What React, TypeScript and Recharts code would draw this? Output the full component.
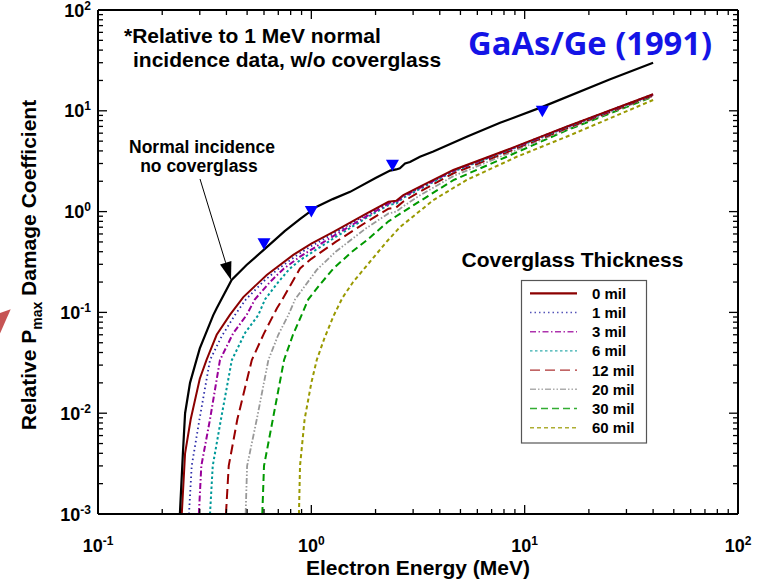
import React from 'react';
import { ComposedChart, Line, Scatter, XAxis, YAxis, Customized } from 'recharts';

const FONT = '"Liberation Sans", Arial, Helvetica, sans-serif';

// ---- axis ticks ----
const xTicks = [0.1, 0.2, 0.3, 0.4, 0.5, 0.6, 0.7, 0.8, 0.9, 1, 2, 3, 4, 5, 6, 7, 8, 9, 10, 20, 30, 40, 50, 60, 70, 80, 90, 100];
const yTicks = [
  0.001, 0.002, 0.003, 0.004, 0.005, 0.006, 0.007, 0.008, 0.009,
  0.01, 0.02, 0.03, 0.04, 0.05, 0.06, 0.07, 0.08, 0.09,
  0.1, 0.2, 0.3, 0.4, 0.5, 0.6, 0.7, 0.8, 0.9,
  1, 2, 3, 4, 5, 6, 7, 8, 9,
  10, 20, 30, 40, 50, 60, 70, 80, 90, 100,
];

// ---- data: [electron energy (MeV), relative Pmax damage coefficient] ----
const normalNoCover: [number, number][] = [
  [0.242, 0.001], [0.25, 0.004], [0.256, 0.01], [0.27, 0.02], [0.285, 0.03], [0.3, 0.044],
  [0.347, 0.094], [0.36, 0.11], [0.423, 0.21], [0.497, 0.295], [0.6, 0.42], [0.75, 0.64],
  [0.884, 0.84], [1.06, 1.12], [1.26, 1.33], [1.52, 1.57], [2.0, 2.15], [2.34, 2.55],
  [2.5, 2.62], [2.6, 2.69], [2.75, 3.0], [2.9, 3.1], [3.23, 3.5], [3.73, 3.95],
  [5.35, 5.53], [7.67, 7.6], [12.2, 11.0], [25, 20.4], [40, 30],
];

const normalMarkers: [number, number][] = [[0.6, 0.48], [1.0, 1.0], [2.4, 2.88], [12.1, 9.9]];

const mil0: [number, number][] = [
  [0.247, 0.001], [0.256, 0.004], [0.272, 0.0087], [0.3, 0.022], [0.323, 0.034], [0.36, 0.06],
  [0.416, 0.095], [0.48, 0.142], [0.618, 0.235], [0.823, 0.372], [1.0, 0.48], [1.27, 0.63],
  [1.82, 0.96], [2.3, 1.25], [2.5, 1.28], [2.7, 1.46], [3.23, 1.77], [4.63, 2.59],
  [8.24, 4.08], [15.7, 6.97], [40, 14.6],
];
const mil1: [number, number][] = [
  [0.267, 0.001], [0.275, 0.003], [0.299, 0.0087], [0.335, 0.0337], [0.38, 0.058], [0.438, 0.094],
  [0.494, 0.135], [0.6, 0.205], [0.7, 0.27], [0.85, 0.365], [1.0, 0.455], [1.3, 0.62],
  [1.8, 0.93], [2.3, 1.23], [2.5, 1.26], [2.7, 1.44], [3.23, 1.75], [4.63, 2.57],
  [8.24, 4.06], [15.7, 6.95], [40, 14.6],
];
const mil3: [number, number][] = [
  [0.297, 0.001], [0.305, 0.003], [0.335, 0.0087], [0.373, 0.0337], [0.43, 0.062], [0.497, 0.094],
  [0.544, 0.135], [0.64, 0.2], [0.74, 0.27], [0.885, 0.357], [1.0, 0.42], [1.3, 0.59],
  [1.8, 0.89], [2.3, 1.2], [2.5, 1.24], [2.7, 1.41], [3.23, 1.72], [4.63, 2.54],
  [8.24, 4.03], [15.7, 6.9], [40, 14.5],
];
const mil6: [number, number][] = [
  [0.335, 0.001], [0.345, 0.003], [0.377, 0.0087], [0.424, 0.0337], [0.49, 0.063], [0.564, 0.094],
  [0.607, 0.135], [0.7, 0.2], [0.79, 0.27], [0.885, 0.33], [1.0, 0.39], [1.3, 0.56],
  [1.8, 0.86], [2.3, 1.16], [2.5, 1.2], [2.7, 1.37], [3.23, 1.68], [4.63, 2.5],
  [8.24, 3.98], [15.7, 6.85], [40, 14.4],
];
const mil12: [number, number][] = [
  [0.398, 0.001], [0.41, 0.003], [0.45, 0.0087], [0.526, 0.0337], [0.6, 0.062], [0.69, 0.11],
  [0.725, 0.13], [0.885, 0.273], [1.0, 0.34], [1.3, 0.5], [1.8, 0.78], [2.3, 1.07],
  [2.5, 1.1], [2.7, 1.26], [3.23, 1.58], [4.63, 2.4], [8.24, 3.88], [15.7, 6.7], [40, 14.2],
];
const mil20: [number, number][] = [
  [0.492, 0.001], [0.5, 0.003], [0.555, 0.0087], [0.629, 0.0337], [0.7, 0.06], [0.78, 0.094],
  [0.84, 0.135], [1.06, 0.264], [1.3, 0.4], [1.8, 0.68], [2.3, 0.96], [2.5, 1.0],
  [2.7, 1.13], [3.23, 1.45], [4.63, 2.25], [8.24, 3.72], [15.7, 6.55], [40, 14.0],
];
const mil30: [number, number][] = [
  [0.589, 0.001], [0.6, 0.003], [0.66, 0.0087], [0.745, 0.0337], [0.82, 0.06], [0.9, 0.094],
  [0.968, 0.135], [1.1, 0.19], [1.27, 0.273], [1.55, 0.4], [1.82, 0.52], [2.3, 0.8],
  [2.6, 0.95], [3.23, 1.27], [4.63, 2.05], [8.24, 3.5], [15.7, 6.4], [40, 13.8],
];
const mil60: [number, number][] = [
  [0.875, 0.001], [0.885, 0.003], [0.93, 0.0087], [1.0, 0.02], [1.06, 0.0337], [1.15, 0.055],
  [1.27, 0.092], [1.4, 0.14], [1.57, 0.2], [1.75, 0.264], [2.25, 0.5], [2.6, 0.7],
  [3.73, 1.3], [5.35, 2.06], [9.18, 3.5], [15.7, 5.53], [40, 12.8],
];

const thicknessLabels = ['0 mil', '1 mil', '3 mil', '6 mil', '12 mil', '20 mil', '30 mil', '60 mil'];
const thicknessCurves = [mil0, mil1, mil3, mil6, mil12, mil20, mil30, mil60];
const thicknessStyles = [
  { stroke: '#8B0000', dash: undefined as string | undefined, width: 2 },
  { stroke: '#2a2aa8', dash: '1.5 3', width: 1.8 },
  { stroke: '#990099', dash: '6 2.5 1.5 2.5', width: 2 },
  { stroke: '#009999', dash: '2.5 2.5', width: 2 },
  { stroke: '#990000', dash: '10 5', width: 2 },
  { stroke: '#999999', dash: '6 2 1.5 2 1.5 2', width: 1.8 },
  { stroke: '#009900', dash: '7 4', width: 2 },
  { stroke: '#999900', dash: '4 3', width: 2 },
];

const toPts = (arr: [number, number][]) => arr.map(([e, v]) => ({ e, v }));

const isMajor = (v: number) => Math.abs(Math.log10(v) - Math.round(Math.log10(v))) < 1e-6;
const expOf = (v: number) => Math.round(Math.log10(v));

const MAJOR = 9;
const MINOR = 5;

const BottomTick = (props: any) => {
  const { x, y, payload } = props;
  const v = payload.value;
  const m = isMajor(v);
  return (
    <g>
      <line x1={x} x2={x} y1={y} y2={y - (m ? MAJOR : MINOR)} stroke="#000" strokeWidth={1.3} />
      {m && (
        <text x={x} y={y + 38} textAnchor="middle" fontFamily={FONT} fontWeight="bold" fontSize={18} fill="#000">
          10<tspan dy={-7} fontSize={12}>{expOf(v)}</tspan>
        </text>
      )}
    </g>
  );
};
const TopTick = (props: any) => {
  const { x, y, payload } = props;
  const m = isMajor(payload.value);
  return <line x1={x} x2={x} y1={y} y2={y + (m ? MAJOR : MINOR)} stroke="#000" strokeWidth={1.3} />;
};
const LeftTick = (props: any) => {
  const { x, y, payload } = props;
  const v = payload.value;
  const m = isMajor(v);
  return (
    <g>
      <line x1={x} x2={x + (m ? MAJOR : MINOR)} y1={y} y2={y} stroke="#000" strokeWidth={1.3} />
      {m && (
        <text x={x - 7} y={y + 6.5} textAnchor="end" fontFamily={FONT} fontWeight="bold" fontSize={18} fill="#000">
          10<tspan dy={-7} fontSize={12}>{expOf(v)}</tspan>
        </text>
      )}
    </g>
  );
};
const RightTick = (props: any) => {
  const { x, y, payload } = props;
  const m = isMajor(payload.value);
  return <line x1={x} x2={x - (m ? MAJOR : MINOR)} y1={y} y2={y} stroke="#000" strokeWidth={1.3} />;
};

const TriDown = (props: any) => {
  const { cx, cy } = props;
  if (cx == null || cy == null) return null;
  return <polygon points={`${cx - 6.5},${cy - 5.5} ${cx + 6.5},${cy - 5.5} ${cx},${cy + 6}`} fill="#0000FF" />;
};

const Annotations = () => {
  const legendLeft = 521.5;
  const legendTop = 280.5;
  const rowStart = 293.3;
  const rowStep = 19.2;
  return (
    <g fontFamily={FONT} fontWeight="bold" fill="#000">
      {/* axis titles */}
      <text x={418} y={575} textAnchor="middle" fontSize={21}>Electron Energy (MeV)</text>
      <text transform="translate(36,265) rotate(-90)" textAnchor="middle" fontSize={21}>
        Relative P<tspan dy={6} fontSize={14}>max</tspan><tspan dy={-6}> Damage Coefficient</tspan>
      </text>
      {/* notes */}
      <text x={124} y={43} fontSize={21}>*Relative to 1 MeV normal</text>
      <text x={133} y={67} fontSize={21}>incidence data, w/o coverglass</text>
      <text x={468} y={55} fontSize={32} fill="#1414E6" textLength={244} lengthAdjust="spacingAndGlyphs"
        fontFamily='"Open Sans", "Noto Sans", sans-serif' fontWeight={700}>GaAs/Ge (1991)</text>
      <text x={202} y={153} textAnchor="middle" fontSize={17.5}>Normal incidence</text>
      <text x={199} y={172} textAnchor="middle" fontSize={17.5}>no coverglass</text>
      {/* arrow */}
      <line x1={200} y1={179} x2={225.7} y2={262.8} stroke="#000" strokeWidth={1} />
      <polygon points="220,264.6 231.4,261.1 231,280" fill="#000" />
      {/* legend */}
      <text x={572.5} y={267} textAnchor="middle" fontSize={21}>Coverglass Thickness</text>
      <rect x={legendLeft} y={legendTop} width={125} height={162.5} fill="#fff" stroke="#555" strokeWidth={1.2} />
      {thicknessLabels.map((lab, i) => {
        const st = thicknessStyles[i];
        const yy = rowStart + i * rowStep;
        return (
          <g key={lab}>
            <line x1={530} x2={577} y1={yy} y2={yy} stroke={st.stroke} strokeWidth={i === 0 ? 2.2 : 1.4}
              strokeDasharray={st.dash} opacity={i === 0 ? 1 : 0.8} />
            <text x={592} y={yy + 5.5} fontSize={15}>{lab}</text>
          </g>
        );
      })}
      {/* clipped arrow fragment at left edge */}
      <polygon points="10.7,309.3 0,313 0,333.5" fill="#C65454" />
    </g>
  );
};

export default function App() {
  const curvesReversed = thicknessCurves.map((c, i) => ({ c, i })).reverse();
  return (
    <div style={{ position: 'absolute', left: 0, top: 0, width: 763, height: 581, background: '#fff' }}>
      <ComposedChart width={763} height={581} margin={{ top: 0, right: 0, bottom: 0, left: 0 }}>
        <XAxis xAxisId="bottom" dataKey="e" type="number" scale="log" domain={[0.1, 100]} allowDataOverflow
          ticks={xTicks} interval={0} orientation="bottom" height={67} tickSize={0} tickMargin={0}
          tick={BottomTick} axisLine={{ stroke: '#000', strokeWidth: 2 }} tickLine={false} />
        <XAxis xAxisId="top" dataKey="e" type="number" scale="log" domain={[0.1, 100]} allowDataOverflow
          ticks={xTicks} interval={0} orientation="top" height={10} tickSize={0} tickMargin={0}
          tick={TopTick} axisLine={{ stroke: '#000', strokeWidth: 2 }} tickLine={false} />
        <YAxis yAxisId="left" dataKey="v" type="number" scale="log" domain={[0.001, 100]} allowDataOverflow
          ticks={yTicks} interval={0} orientation="left" width={98} tickSize={0} tickMargin={0}
          tick={LeftTick} axisLine={{ stroke: '#000', strokeWidth: 2 }} tickLine={false} />
        <YAxis yAxisId="right" dataKey="v" type="number" scale="log" domain={[0.001, 100]} allowDataOverflow
          ticks={yTicks} interval={0} orientation="right" width={25} tickSize={0} tickMargin={0}
          tick={RightTick} axisLine={{ stroke: '#000', strokeWidth: 2 }} tickLine={false} />
        <Customized component={Annotations} />
        {curvesReversed.map(({ c, i }) => (
          <Line key={thicknessLabels[i]} xAxisId="bottom" yAxisId="left" data={toPts(c)} dataKey="v"
            name={thicknessLabels[i]} type="linear" stroke={thicknessStyles[i].stroke}
            strokeWidth={thicknessStyles[i].width} strokeDasharray={thicknessStyles[i].dash}
            dot={false} activeDot={false} isAnimationActive={false} />
        ))}
        <Line xAxisId="bottom" yAxisId="left" data={toPts(normalNoCover)} dataKey="v" name="Normal incidence"
          type="linear" stroke="#000" strokeWidth={2.2} dot={false} activeDot={false} isAnimationActive={false} />
        <Scatter xAxisId="bottom" yAxisId="left" data={toPts(normalMarkers)} dataKey="v" shape={TriDown}
          isAnimationActive={false} />
      </ComposedChart>
    </div>
  );
}
